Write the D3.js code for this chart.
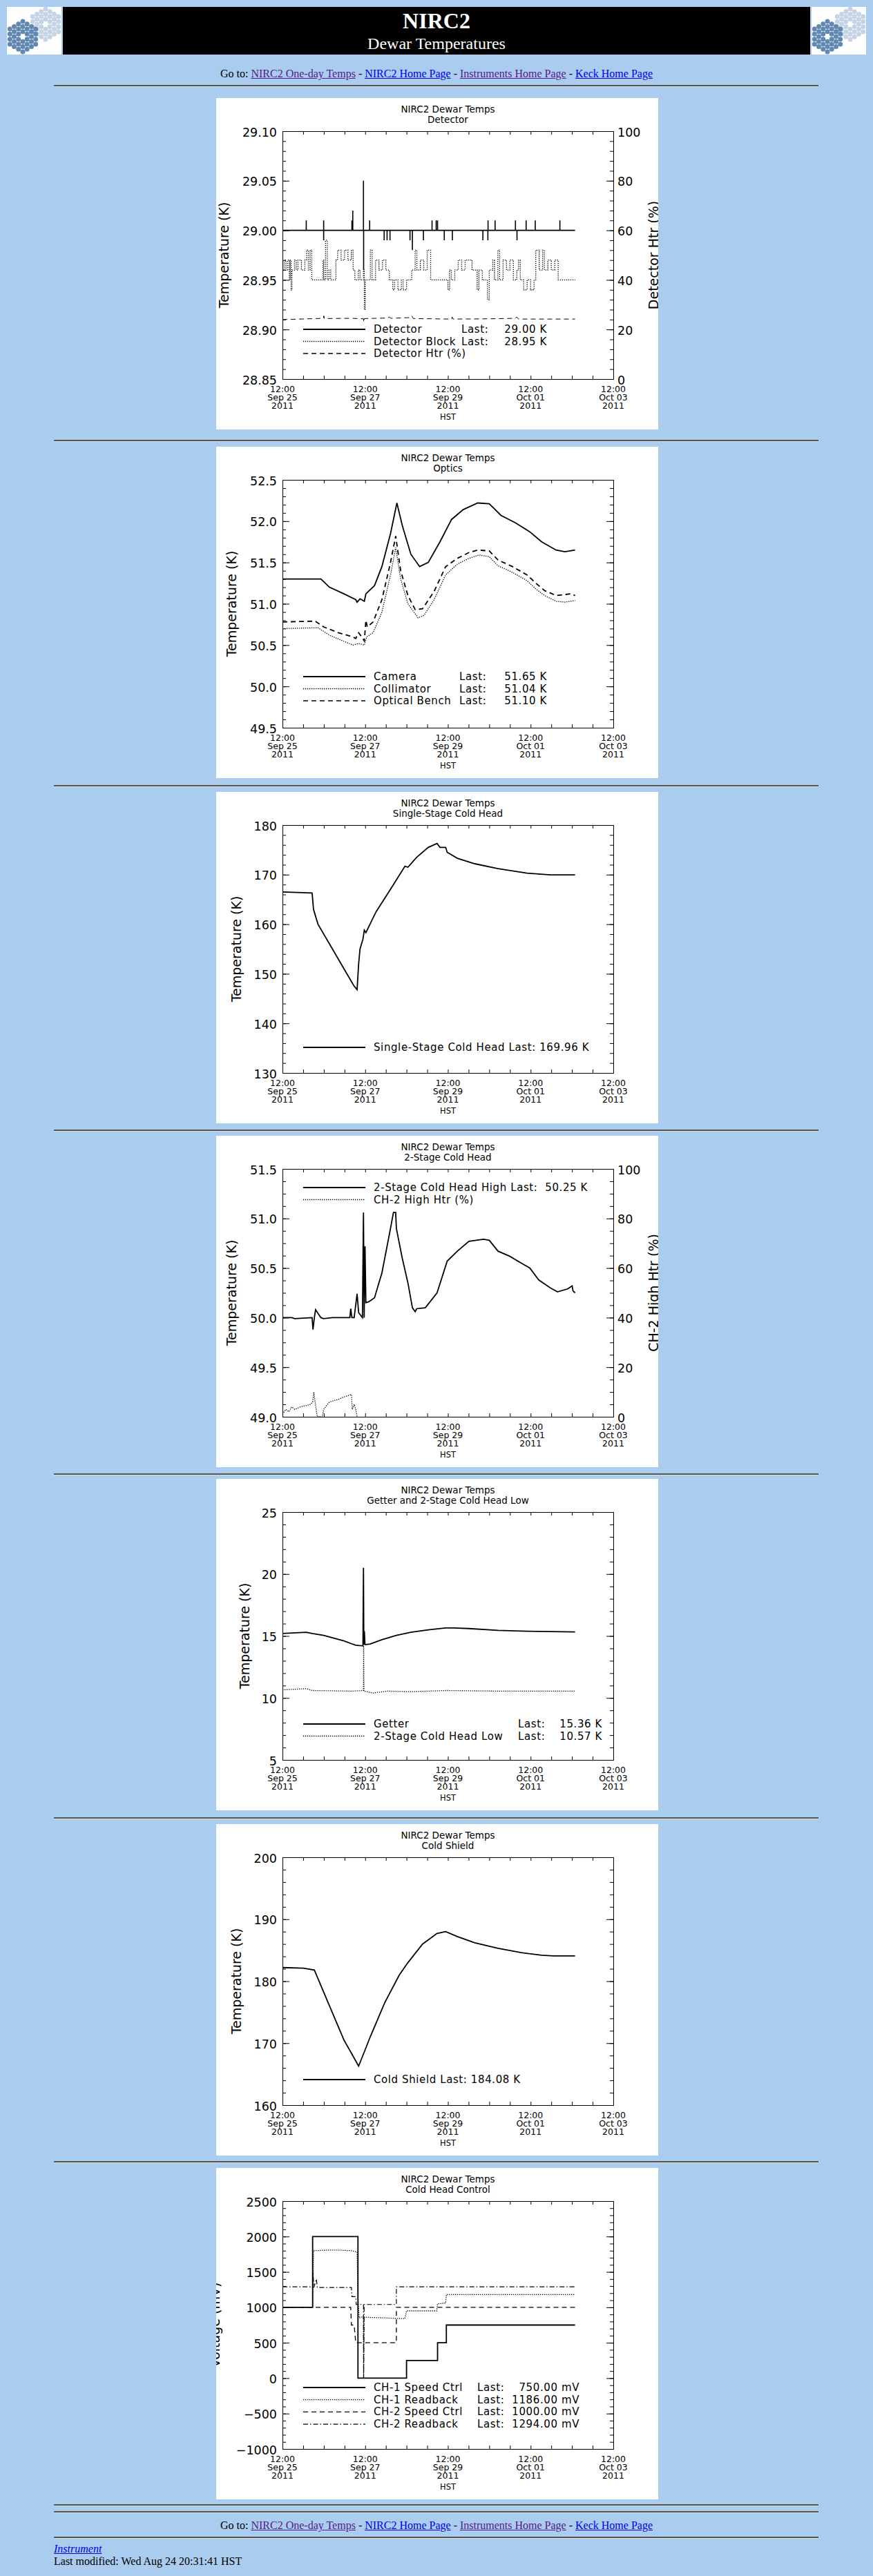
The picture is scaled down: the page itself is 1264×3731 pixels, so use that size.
<!DOCTYPE html>
<html>
<head>
<meta charset="utf-8">
<title>NIRC2 Dewar Temperatures</title>
<script src="https://cdn.jsdelivr.net/npm/d3@7"></script>
<style>
  body { margin:0; background:#aaccee; font-family:"Liberation Serif", serif; }
  #page { position:relative; width:1264px; height:3731px; }
  .abs { position:absolute; }
  .hr { position:absolute; left:78px; width:1107px; height:0; border-top:2px solid #555; border-bottom:1px solid #ddd; }
  .goto { position:absolute; left:0; width:1264px; text-align:center; font-size:16px; }
  a { color:#0000ee; } a.v { color:#551a8b; }
  svg text { font-family:"DejaVu Sans", sans-serif; fill:#000; }
  .panel { position:absolute; left:313px; background:#fff; }
</style>
</head>
<body>
<div id="page"></div>
<script>
// hours after 12:00 Sep 25 2011 (HST), value
const detectorSpikes = [[13.8,29.01],[23.9,29.01],[23.9,28.99],[40.3,29.01],[40.8,29.02],[47.0,29.05],[47.1,28.96],[50.6,29.01],
  [59.0,28.99],[60.7,28.99],[62.4,28.99],[74.0,28.99],[75.4,28.98],[81.8,28.99],[86.8,29.01],[89.2,29.01],[90.0,29.01],
  [93.9,28.99],[98.6,28.99],[116.3,28.99],[119.2,28.99],[119.3,29.01],[123.4,29.01],[135.2,29.01],[136.1,28.99],
  [141.4,29.01],[146.7,29.01],[161.0,29.01]];
const detectorLevel = 29.00, detectorEnd = 169.8;
const detectorBlock = [[0,28.96],[1,28.97],[2,28.96],[3,28.97],[4,28.95],[4.5,28.97],[5,28.94],[5.5,28.96],[7,28.97],[8,28.96],
  [9,28.97],[11,28.96],[13,28.97],[14,28.98],[15,28.96],[16,28.98],[17,28.95],[23,28.95],[23.5,28.97],[24,28.95],[25,28.99],
  [26,28.95],[27,28.96],[28,28.95],[31,28.97],[32,28.98],[34,28.97],[36,28.98],[38,28.97],[40,28.98],[41,28.96],[42,28.95],
  [44,28.96],[45,28.95],[47,28.96],[47.5,28.92],[48,28.95],[51,28.98],[52,28.95],[54,28.97],[56,28.96],[58,28.97],[60,28.96],
  [62,28.95],[64,28.94],[65,28.95],[67,28.94],[69,28.95],[70,28.94],[72,28.95],[75,28.96],[77,28.98],[78,28.96],[80,28.97],
  [82,28.96],[84,28.98],[86,28.95],[96,28.94],[97,28.96],[98,28.95],[100,28.96],[102,28.97],[104,28.96],[106,28.97],[110,28.96],
  [113,28.94],[114,28.96],[116,28.95],[119,28.93],[120,28.96],[122,28.97],[123,28.95],[125,28.98],[126,28.95],[128,28.97],
  [130,28.96],[132,28.97],[134,28.95],[136,28.96],[137,28.97],[138,28.95],[140,28.94],[142,28.95],[144,28.94],[146,28.95],
  [147,28.98],[149,28.96],[151,28.98],[152,28.96],[154,28.97],[156,28.96],[158,28.97],[160,28.95],[169.8,28.95]];
const detectorHtr = [[0,24],[10,24.2],[23.8,24.5],[24,25.5],[24.3,24.4],[40,24.5],[47,24.3],[47.2,23],[47.6,24.4],[60,24.6],
  [62,25],[63,24.5],[74,24.8],[75,25.5],[76,24.4],[98,24.2],[98.5,25],[99,24.2],[120,24.3],[135,24.5],[136,25],[137,24.2],[169.8,24.2]];

const camera = [[0,51.30],[22.3,51.30],[27.3,51.20],[35.7,51.12],[42.5,51.05],[43.3,51.02],[45.0,51.06],[47.5,51.03],[48.4,51.12],
  [53.4,51.22],[57.7,51.45],[62.7,51.85],[66.4,52.22],[69.5,51.95],[74.5,51.60],[79.6,51.45],[84.6,51.50],[91.4,51.75],
  [98.1,52.02],[104.9,52.14],[113.3,52.22],[120.0,52.21],[126.8,52.07],[135.2,51.98],[143.6,51.87],[150.4,51.75],
  [158.8,51.65],[163.9,51.63],[169.8,51.65]];
const collimator = [[0,50.70],[20.6,50.71],[27.3,50.62],[40.8,50.50],[44.2,50.52],[47.5,50.50],[48.9,50.60],[52.6,50.65],
  [57.7,50.90],[62.7,51.35],[65.7,51.68],[68.6,51.30],[72.8,51.00],[78.7,50.83],[82.1,50.86],[88.0,51.05],[94.7,51.35],
  [101.5,51.48],[108.2,51.55],[114.1,51.59],[120.0,51.57],[125.1,51.46],[133.5,51.38],[141.9,51.28],[147.0,51.18],
  [152.1,51.10],[158.8,51.03],[163.9,51.02],[169.8,51.04]];
const opticalBench = [[0,50.78],[18.9,50.79],[23.9,50.72],[32.4,50.65],[40.8,50.60],[42.5,50.58],[44.2,50.65],[45.9,50.60],
  [47.5,50.55],[48.4,50.80],[49.2,50.72],[52.6,50.78],[57.7,51.05],[62.7,51.50],[65.7,51.82],[68.6,51.40],[72.8,51.10],
  [77.0,50.93],[81.3,50.94],[88.0,51.15],[94.7,51.45],[101.5,51.55],[108.2,51.62],[113.3,51.65],[120.0,51.64],[125.1,51.53],
  [133.5,51.45],[141.9,51.35],[147.0,51.25],[152.1,51.16],[158.8,51.10],[167.2,51.12],[169.8,51.10]];

const singleStage = [[0,166.5],[17.2,166.3],[18.0,163],[20.6,160],[27.3,156],[35.7,151],[41.6,147.5],[43.3,146.8],[44.2,152],
  [45.0,155],[46.7,157],[47.5,158.8],[48.4,158.3],[54.3,162.5],[64.4,168],[71.1,171.7],[72.8,171.5],[77.9,173.5],[84.6,175.5],
  [89.7,176.3],[91.4,175.5],[94.7,175.5],[95.6,174.5],[101.5,173.3],[111.6,172.2],[125.1,171.2],[141.9,170.3],[155.4,169.95],[169.8,169.96]];

const coldHeadHigh = [[0,50.0],[5.4,50.0],[7.1,49.99],[17.2,50.0],[17.7,49.88],[18.5,50.0],[19.2,50.08],[22.3,50.0],[23.9,49.99],
  [29.0,50.0],[39.1,50.0],[39.6,50.09],[40.3,50.0],[41.6,50.0],[43.3,50.24],[44.2,50.05],[46.4,50.0],[47.0,51.06],[47.4,50.0],
  [47.9,50.72],[48.4,50.15],[50.1,50.16],[51.8,50.18],[53.4,50.2],[57.7,50.45],[62.7,50.9],[64.4,51.06],[65.7,51.06],[66.1,50.9],
  [69.5,50.6],[72.8,50.35],[75.4,50.1],[77.0,50.06],[77.9,50.09],[82.9,50.1],[89.7,50.25],[95.6,50.57],[101.5,50.67],[108.2,50.77],
  [116.7,50.79],[120.0,50.78],[125.1,50.67],[131.8,50.62],[138.6,50.55],[143.6,50.5],[148.7,50.38],[155.4,50.3],[159.6,50.26],
  [165.5,50.29],[168.1,50.32],[168.6,50.27],[169.8,50.25]];
const ch2HighHtr = [[0,1],[2.0,3],[3.7,2],[5.4,4],[7.1,3],[10.5,4],[16.4,5],[17.5,6],[18.2,10],[18.9,6],[20.2,0],[23.1,0],[23.9,3],
  [27.3,6],[32.4,7],[35.7,8],[40.0,9],[40.5,3],[41.6,5],[42.5,3],[43.3,0]];

const getter = [[0,15.2],[13.8,15.3],[17.2,15.2],[23.9,15.05],[35.7,14.6],[42.5,14.25],[46.7,14.2],[47.0,20.5],[47.2,14.3],
  [47.5,15.4],[47.9,14.3],[50.9,14.35],[57.7,14.7],[66.1,15.05],[74.5,15.3],[84.6,15.5],[94.7,15.65],[99.7,15.65],[108.2,15.6],
  [125.1,15.45],[141.9,15.38],[169.8,15.33]];
const coldHeadLow = [[0,10.65],[13.8,10.75],[17.2,10.6],[40.8,10.55],[47.0,10.6],[47.1,14.2],[47.3,10.55],[52.6,10.4],
  [61.0,10.55],[74.5,10.5],[94.7,10.6],[125.1,10.55],[169.8,10.55]];

const coldShield = [[0,182.2],[12.1,182.1],[18.5,181.8],[27.3,176],[35.7,170.5],[44.2,166.3],[50.9,171],[59.3,176.5],[67.8,181],
  [72.8,183],[81.3,186],[89.7,187.7],[94.7,188],[101.5,187.2],[111.6,186.2],[125.1,185.3],[138.6,184.6],[150.4,184.2],[157.1,184.08],[169.8,184.08]];

const ch1Speed = [[0,1000],[17.5,1000],[17.5,2000],[43.8,2000],[43.8,0],[72.0,0],[72.0,250],[90.0,250],[90.0,500],[95.1,500],[95.1,750],[169.8,750]];
const ch1Readback = [[0,1000],[17.5,1000],[18.0,1800],[30,1810],[40,1800],[43.3,1780],[43.8,1150],[44.5,850],[47.0,870],[47.1,0],[47.4,860],
  [60,850],[71.0,840],[72.0,950],[89.5,950],[90.0,1050],[94.7,1060],[95.1,1180],[130,1180],[169.8,1180]];
const ch2Speed = [[0,1000],[17.5,1000],[18.2,1000],[39.6,1000],[40.0,750],[41.6,750],[42.5,500],[66.1,500],[66.1,1000],[169.8,1000]];
const ch2Readback = [[0,1290],[17.5,1290],[17.7,1500],[18.2,1280],[19.7,1400],[20.2,1280],[40.0,1280],[40.3,1150],[42.5,1150],[42.8,1040],
  [47.0,1040],[47.1,0],[47.4,1040],[66.1,1040],[66.1,1290],[169.8,1290]];

const xLabelHours = [0, 48, 96, 144, 192];
const t0 = new Date(2011, 8, 25, 12, 0);

const page = d3.select("#page");

// ---- header ----
function logo(x) {
  const s = page.append("svg").attr("class","abs").style("left",x+"px").style("top","10px")
    .attr("width",79).attr("height",69);
  s.append("rect").attr("width",79).attr("height",69).attr("fill","#fff");
  const seg = [];
  for (let q = -3; q <= 3; q++) for (let r = -3; r <= 3; r++)
    if (Math.abs(q + r) <= 3 && !(q === 0 && r === 0)) seg.push([q, r]);
  const mirror = (cx, cy, col) => s.append("g").selectAll("circle").data(seg).join("circle")
    .attr("cx", d => cx + 7.2 * 0.866 * d[0]).attr("cy", d => cy + 7.3 * (d[1] + d[0] / 2))
    .attr("r", 3.5).attr("fill", col);
  mirror(56, 25, "#c5d4e4");
  mirror(23, 43, "#6088b0");
}
logo(10); logo(1175);
page.append("div").attr("class","abs").style("left","91px").style("top","10px")
  .style("width","1082px").style("height","69px").style("background","#000");
page.append("div").attr("class","abs").style("left","91px").style("width","1082px").style("top","12px")
  .style("text-align","center").style("color","#fff").style("font-size","32px").style("font-weight","bold").text("NIRC2");
page.append("div").attr("class","abs").style("left","91px").style("width","1082px").style("top","50px")
  .style("text-align","center").style("color","#fff").style("font-size","24px").text("Dewar Temperatures");

function gotoLine(top) {
  page.append("div").attr("class","goto").style("top",top+"px").html(
    'Go to: <a class="v" href="#">NIRC2 One-day Temps</a> - <a href="#">NIRC2 Home Page</a> - ' +
    '<a class="v" href="#">Instruments Home Page</a> - <a href="#">Keck Home Page</a>');
}
gotoLine(98);
[123, 637, 1137, 1636, 2134, 2632, 3130, 3627, 3637, 3674].forEach(y =>
  page.append("div").attr("class","hr").style("top", y+"px"));
gotoLine(3649);
page.append("div").attr("class","abs").style("left","78px").style("top","3683px").style("font-size","16px")
  .html('<a href="#"><i>Instrument</i></a>');
page.append("div").attr("class","abs").style("left","78px").style("top","3701px").style("font-size","16px")
  .text("Last modified: Wed Aug 24 20:31:41 HST");

// ---- panels ----
const W = 640, H = 480, L = 96, R = 575, T = 48, B = 407;
const styles = {
  solid: {w:1.8, dash:null}, dotted: {w:1.3, dash:"1.3,1.7"}, dashed: {w:1.3, dash:"7,5"}, dashdot: {w:1.2, dash:"7,3,1.5,3"}
};

const panels = [
  { top:142, sub:"Detector", y:[28.85,29.10], step:0.05, minor:0.01, fmt:".2f", ytitle:"Temperature (K)", tx:11,
    right:{dom:[0,100], step:20, minor:4, title:"Detector Htr (%)"},
    series:[
      {data: detectorSpikes.flatMap(d => [[d[0],detectorLevel],[d[0],d[1]],[d[0],detectorLevel]])
          .concat([[0,detectorLevel]]).sort((a,b)=>a[0]-b[0]).concat([[detectorEnd,detectorLevel]]), st:"solid", w:1.6},
      {data: detectorBlock, st:"dotted", curve:d3.curveStepAfter},
      {data: detectorHtr, st:"dashed", axis:"right", w:1}],
    legend:{rows:[["solid","Detector","Last:","29.00 K"],["dotted","Detector Block","Last:","28.95 K"],["dashed","Detector Htr (%)"]],
      y0:340, dy:17.5, lastX:355, valEnd:479} },
  { top:647, sub:"Optics", y:[49.5,52.5], step:0.5, minor:0.1, fmt:".1f", ytitle:"Temperature (K)", tx:22,
    series:[{data:camera, st:"solid"},{data:collimator, st:"dotted"},{data:opticalBench, st:"dashed", w:1.8}],
    legend:{rows:[["solid","Camera","Last:","51.65 K"],["dotted","Collimator","Last:","51.04 K"],["dashed","Optical Bench","Last:","51.10 K"]],
      y0:338, dy:17.5, lastX:352, valEnd:479} },
  { top:1147, sub:"Single-Stage Cold Head", y:[130,180], step:10, minor:2, fmt:"d", ytitle:"Temperature (K)", tx:29,
    series:[{data:singleStage, st:"solid"}],
    legend:{rows:[["solid","Single-Stage Cold Head Last: 169.96 K"]], y0:375, dy:17.5} },
  { top:1645, sub:"2-Stage Cold Head", y:[49.0,51.5], step:0.5, minor:0.125, fmt:".1f", ytitle:"Temperature (K)", tx:22,
    right:{dom:[0,100], step:20, minor:5, title:"CH-2 High Htr (%)"},
    series:[{data:coldHeadHigh, st:"solid"},{data:ch2HighHtr, st:"dotted", axis:"right"}],
    legend:{rows:[["solid","2-Stage Cold Head High Last:  50.25 K"],["dotted","CH-2 High Htr (%)"]], y0:80, dy:17.5} },
  { top:2142, sub:"Getter and 2-Stage Cold Head Low", y:[5,25], step:5, minor:1, fmt:"d", ytitle:"Temperature (K)", tx:41,
    series:[{data:getter, st:"solid"},{data:coldHeadLow, st:"dotted"}],
    legend:{rows:[["solid","Getter","Last:","15.36 K"],["dotted","2-Stage Cold Head Low","Last:","10.57 K"]],
      y0:360, dy:17.5, lastX:437, valEnd:559} },
  { top:2642, sub:"Cold Shield", y:[160,200], step:10, minor:2, fmt:"d", ytitle:"Temperature (K)", tx:29,
    series:[{data:coldShield, st:"solid"}],
    legend:{rows:[["solid","Cold Shield Last: 184.08 K"]], y0:375, dy:17.5} },
  { top:3140, sub:"Cold Head Control", y:[-1000,2500], step:500, minor:100, fmt:"d", ytitle:"Voltage (mV)", tx:-2,
    series:[{data:ch1Speed, st:"solid"},{data:ch1Readback, st:"dotted"},{data:ch2Speed, st:"dashed"},{data:ch2Readback, st:"dashdot"}],
    legend:{rows:[["solid","CH-1 Speed Ctrl","Last:","750.00 mV"],["dotted","CH-1 Readback","Last:","1186.00 mV"],
      ["dashed","CH-2 Speed Ctrl","Last:","1000.00 mV"],["dashdot","CH-2 Readback","Last:","1294.00 mV"]],
      y0:323, dy:17.7, lastX:378, valEnd:526} }
];

const hr = h => new Date(t0.getTime() + h*3600e3);
const x = d3.scaleTime().domain([hr(0), hr(192)]).range([L, R]);

panels.forEach((p, i) => {
  const svg = page.append("svg").attr("class","panel").style("top", p.top+"px").attr("width",W).attr("height",H);
  svg.append("rect").attr("width",W).attr("height",H).attr("fill","#fff");
  const y = d3.scaleLinear().domain(p.y).range([B, T]);
  const yr = p.right ? d3.scaleLinear().domain(p.right.dom).range([B, T]) : null;

  svg.append("defs").append("clipPath").attr("id","c"+i).append("rect").attr("x",L).attr("y",T).attr("width",R-L).attr("height",B-T);

  // titles
  svg.append("text").attr("x",(L+R)/2).attr("y",21).attr("text-anchor","middle").attr("font-size",13.5).text("NIRC2 Dewar Temps");
  svg.append("text").attr("x",(L+R)/2).attr("y",36).attr("text-anchor","middle").attr("font-size",13.5).text(p.sub);

  const ax = svg.append("g").attr("stroke-width",1);
  const nMaj = Math.round((p.y[1]-p.y[0])/p.step);
  const majT = d3.range(nMaj+1).map(k => p.y[0] + k*p.step);
  const minT = d3.range(Math.round((p.y[1]-p.y[0])/p.minor)+1).map(k => p.y[0] + k*p.minor);
  const f = d3.format(p.fmt);
  // left
  ax.append("g").attr("transform",`translate(${L},0)`).call(d3.axisLeft(y).tickValues(minT).tickSize(-5).tickFormat(""));
  ax.append("g").attr("transform",`translate(${L},0)`)
    .call(d3.axisLeft(y).tickValues(majT).tickSize(-10).tickPadding(8).tickFormat(d => f(d).replace("-","\u2212")))
    .call(g => g.selectAll("text").attr("font-size",17.5).attr("font-family","DejaVu Sans").attr("dy","0.4em"));
  // right
  if (p.right) {
    const rMaj = d3.range(p.right.dom[0], p.right.dom[1]+0.01, p.right.step);
    const rMin = d3.range(p.right.dom[0], p.right.dom[1]+0.01, p.right.minor);
    ax.append("g").attr("transform",`translate(${R},0)`).call(d3.axisRight(yr).tickValues(rMin).tickSize(-5).tickFormat(""));
    ax.append("g").attr("transform",`translate(${R},0)`)
      .call(d3.axisRight(yr).tickValues(rMaj).tickSize(-10).tickPadding(6).tickFormat(d3.format("d")))
      .call(g => g.selectAll("text").attr("font-size",17.5).attr("font-family","DejaVu Sans").attr("dy","0.4em"));
    svg.append("text").attr("transform",`translate(${633},${(T+B)/2}) rotate(-90)`).attr("text-anchor","middle")
      .attr("dy","0.35em").attr("font-size",19).text(p.right.title);
  } else {
    ax.append("g").attr("transform",`translate(${R},0)`).call(d3.axisRight(y).tickValues(minT).tickSize(-5).tickFormat(""));
    ax.append("g").attr("transform",`translate(${R},0)`).call(d3.axisRight(y).tickValues(majT).tickSize(-10).tickFormat(""));
  }
  // x axes
  const xt = d3.range(0, 193, 12).map(hr);
  ax.append("g").attr("transform",`translate(0,${B})`).call(d3.axisBottom(x).tickValues(xt).tickSize(-5).tickFormat(""));
  ax.append("g").attr("transform",`translate(0,${T})`).call(d3.axisTop(x).tickValues(xt).tickSize(-5).tickFormat(""));
  ax.selectAll(".domain").attr("stroke","#000");
  ax.selectAll(".tick line").attr("stroke","#000");

  const xl = svg.append("g").attr("font-size",12.5).attr("text-anchor","middle");
  xLabelHours.forEach(h => {
    const d = hr(h);
    [d3.timeFormat("%H:%M")(d), d3.timeFormat("%b %d")(d), d3.timeFormat("%Y")(d)].forEach((s, k) =>
      xl.append("text").attr("x", x(d)).attr("y", 426 + k*12).text(s));
  });
  xl.append("text").attr("x",(L+R)/2).attr("y",466).attr("font-size",11.5).text("HST");

  svg.append("text").attr("transform",`translate(${p.tx},${(T+B)/2}) rotate(-90)`).attr("text-anchor","middle")
    .attr("dy","0.35em").attr("font-size",19).text(p.ytitle);

  // series
  const gl = svg.append("g").attr("clip-path",`url(#c${i})`);
  p.series.forEach(s => {
    const ys = s.axis === "right" ? yr : y;
    const line = d3.line().x(d => x(hr(d[0]))).y(d => ys(d[1])).curve(s.curve || d3.curveLinear);
    const st = styles[s.st];
    gl.append("path").datum(s.data).attr("d", line).attr("fill","none").attr("stroke","#000")
      .attr("stroke-width", s.w || st.w).attr("stroke-dasharray", st.dash);
  });

  // legend
  const lg = svg.append("g").attr("font-size",15).attr("letter-spacing","0.6px");
  p.legend.rows.forEach((r, k) => {
    const yy = p.legend.y0 + k*p.legend.dy;
    const st = styles[r[0]];
    lg.append("line").attr("x1",126).attr("x2",216).attr("y1",yy-5).attr("y2",yy-5)
      .attr("stroke","#000").attr("stroke-width",st.w).attr("stroke-dasharray",st.dash);
    lg.append("text").attr("x",228).attr("y",yy).attr("xml:space","preserve").text(r[1]);
    if (r[2]) {
      lg.append("text").attr("x",p.legend.lastX).attr("y",yy).text(r[2]);
      lg.append("text").attr("x",p.legend.valEnd).attr("y",yy).attr("text-anchor","end").text(r[3]);
    }
  });
});
</script>
</body>
</html>
